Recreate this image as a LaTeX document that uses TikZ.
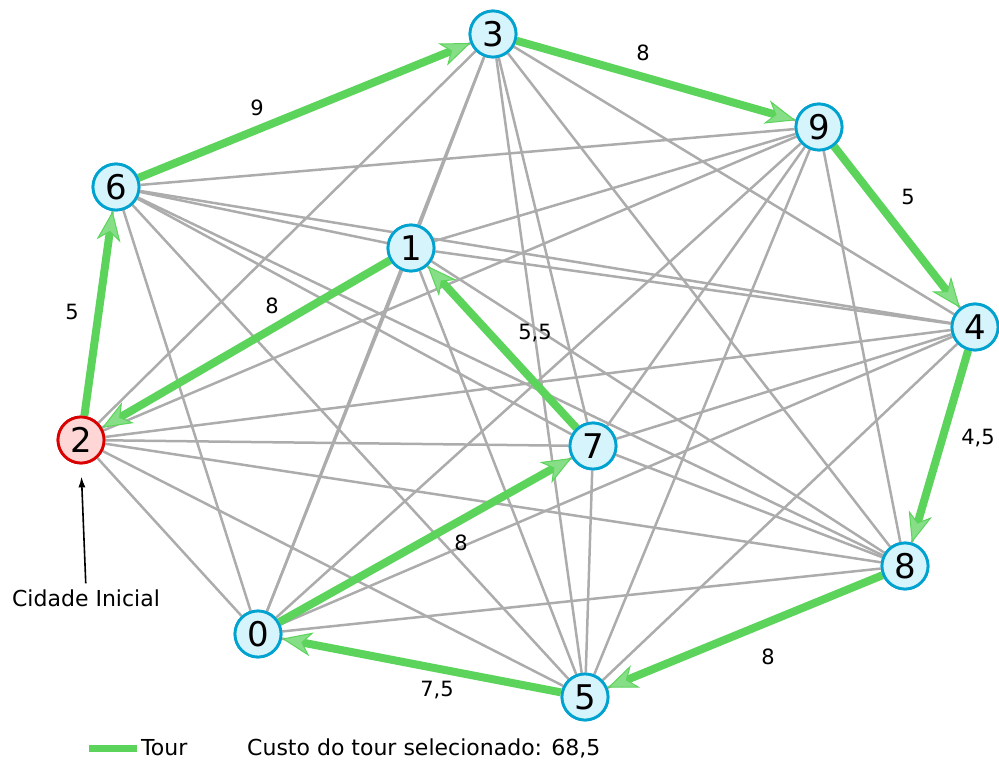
\documentclass[tikz,border=0pt]{standalone}
\usepackage{fontspec}
\setmainfont{DejaVu Sans}
\usetikzlibrary{arrows.meta}

\definecolor{edgegray}{RGB}{172,172,172}
\definecolor{tourgreen}{RGB}{92,212,92}
\definecolor{tourtip}{RGB}{134,222,134}
\definecolor{cityfill}{RGB}{214,244,252}
\definecolor{cityborder}{RGB}{0,162,208}
\definecolor{startfill}{RGB}{255,214,214}
\definecolor{startborder}{RGB}{218,0,0}

\tikzset{
  city/.style={circle, draw=cityborder, fill=cityfill, line width=2.8pt,
    minimum size=46pt, inner sep=0pt, font=\fontsize{34}{34}\selectfont},
  startcity/.style={city, draw=startborder, fill=startfill},
  grayedge/.style={draw=edgegray, line width=2.5pt},
  touredge/.style={draw=tourgreen, line width=8pt,
    -{Stealth[length=30pt, width=24pt, inset=9pt, line width=1pt, fill=tourtip]}},
  cost/.style={font=\fontsize{21}{21}\selectfont, inner sep=0pt},
  legendtext/.style={font=\fontsize{22}{22}\selectfont, inner sep=0pt}
}

\begin{document}
\begin{tikzpicture}[x=1pt, y=-1pt]
\useasboundingbox (0,0) rectangle (999,763);

% cities
\node[city]      (n0) at (258,634) {0};
\node[city]      (n1) at (411,248) {1};
\node[startcity] (n2) at (81,440)  {2};
\node[city]      (n3) at (493,34)  {3};
\node[city]      (n4) at (975,327) {4};
\node[city]      (n5) at (585,697) {5};
\node[city]      (n6) at (116,187) {6};
\node[city]      (n7) at (593,446) {7};
\node[city]      (n8) at (905,566) {8};
\node[city]      (n9) at (819,127) {9};

% every pair of cities is connected
\foreach \a in {0,...,9}{
  \foreach \b in {0,...,9}{
    \ifnum\a<\b
      \draw[grayedge] (n\a) -- (n\b);
    \fi
  }
}

% selected tour
\draw[touredge] (n2) -- (n6);
\draw[touredge] (n6) -- (n3);
\draw[touredge] (n3) -- (n9);
\draw[touredge] (n9) -- (n4);
\draw[touredge] (n4) -- (n8);
\draw[touredge] (n8) -- (n5);
\draw[touredge] (n5) -- (n0);
\draw[touredge] (n0) -- (n7);
\draw[touredge] (n7) -- (n1);
\draw[touredge] (n1) -- (n2);

% redraw cities above the edges
\node[city]      at (n0) {0};
\node[city]      at (n1) {1};
\node[startcity] at (n2) {2};
\node[city]      at (n3) {3};
\node[city]      at (n4) {4};
\node[city]      at (n5) {5};
\node[city]      at (n6) {6};
\node[city]      at (n7) {7};
\node[city]      at (n8) {8};
\node[city]      at (n9) {9};

% tour edge costs
\node[cost] (c26) at (72,312)  {5};
\node[cost] (c63) at (257,108) {9};
\node[cost] (c39) at (643,53)  {8};
\node[cost] (c94) at (908,197) {5};
\node[cost] (c48) at (978,438) {4,5};
\node[cost] (c85) at (768,657) {8};
\node[cost] (c50) at (437,690) {7,5};
\node[cost] (c07) at (461,543) {8};
\node[cost] (c71) at (535,333) {5,5};
\node[cost] (c12) at (272,306) {8};

% start marker
\node[legendtext] (start) at (86,598) {Cidade Inicial};
\draw[line width=1.6pt, -{Latex[length=11pt, width=7pt]}, shorten >=12pt, shorten <=6pt]
  (start.north) -- (n2.south);

% legend
\coordinate (legA) at (89,748);
\coordinate (legB) at (137,748);
\draw[draw=tourgreen, line width=7pt] (legA) -- (legB);
\node[legendtext, anchor=west] (legtour) at (141,748) {Tour};
\node[legendtext, anchor=west] (legcost) at (247,748) {Custo do tour selecionado: 68,5};
\end{tikzpicture}
\end{document}
